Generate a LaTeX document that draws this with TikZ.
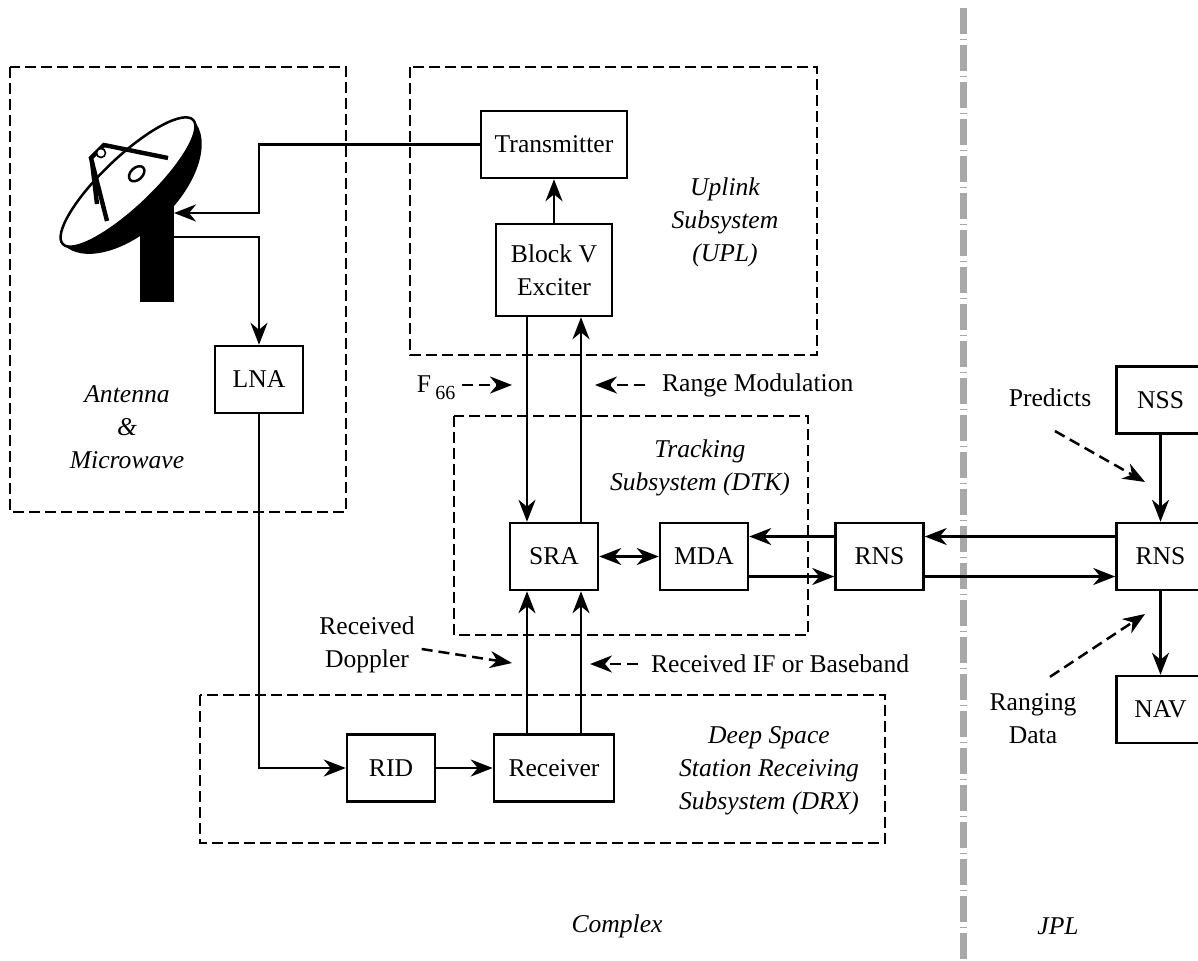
\documentclass[tikz,border=0pt]{standalone}
\usepackage{fontspec}
\setmainfont{Liberation Serif}
\usetikzlibrary{arrows.meta,calc}

\begin{document}
\begin{tikzpicture}[x=0.5pt,y=-0.5pt,font=\fontsize{12.8}{16.5}\selectfont,
		box/.style={draw,line width=1.25pt,minimum width=44pt,minimum height=33.5pt,inner sep=2pt,align=center},
		grp/.style={line width=1.25pt,dash pattern=on 5.5pt off 2.5pt},
		arr/.style={line width=1.25pt,-{Stealth[length=11pt,width=8.5pt,inset=3.5pt]}},
		both/.style={line width=1.25pt,{Stealth[length=11pt,width=8.5pt,inset=3.5pt]}-{Stealth[length=11pt,width=8.5pt,inset=3.5pt]}},
		ind/.style={arr,dash pattern=on 5.5pt off 3pt},
		lbl/.style={align=center,font=\fontsize{12.8}{16.5}\selectfont\itshape},
		divider/.style={draw=black!34,line width=3.5pt,dash pattern=on 13pt off 2.3pt on 0.7pt off 2.5pt}]
		\useasboundingbox (0,0) rectangle (1198,960);
		\clip (0,0) rectangle (1198,960);
		
		% subsystem frames
		\draw [grp] (10,67) rectangle (346,512);
		\draw [grp] (410,67) rectangle (817,355);
		\draw [grp] (454,416) rectangle (808,635);
		\draw [grp] (200,695) rectangle (885,843);
		\draw [divider] (963,8) -- (963,960);
		
		% dish antenna
		\fill (140,195) rectangle (174,302);
		\begin{scope}[shift={(128,182)},rotate=43.6]
			\fill (-90,0) arc[start angle=180,end angle=0,x radius=90,y radius=50]
				arc[start angle=0,end angle=180,x radius=90,y radius=25] -- cycle;
			\draw [line width=1.25pt,fill=white] (0,0) ellipse[x radius=90,y radius=25];
			\draw [line width=1.25pt,fill=white] (12,0) ellipse[x radius=9,y radius=6];
		\end{scope}
		\draw [line width=2.2pt] (107,221) -- (91,158) -- (104,145) -- (168,158);
		\draw [line width=2.2pt] (92,162) -- (97,204);
		\draw [line width=0.8pt,fill=white] (101,153) circle (4.5);
		\coordinate (feedin) at (174,213);
		\coordinate (feedout) at (174,237);
		
		% blocks
		\node [box,minimum width=73pt] (tx) at (554,144.5) {Transmitter};
		\node [box,minimum width=58pt,minimum height=46pt] (exc) at (554,270) {Block V\\Exciter};
		\node [box] (lna) at (259,379.5) {LNA};
		\node [box] (sra) at (554,556.5) {SRA};
		\node [box] (mda) at (704,556.5) {MDA};
		\node [box] (rnsa) at (879.5,556.5) {RNS};
		\node [box] (rnsb) at (1160.5,556.5) {RNS};
		\node [box] (nss) at (1160.5,400) {NSS};
		\node [box] (nav) at (1160.5,709.5) {NAV};
		\node [box] (rid) at (391,768) {RID};
		\node [box,minimum width=60pt] (rcv) at (554,768) {Receiver};
		
		% subsystem names
		\node [lbl] (antlbl) at (127,427) {Antenna\\\&\\Microwave};
		\node [lbl] (upllbl) at (725,222) {Uplink\\Subsystem\\(UPL)};
		\node [lbl] (dtklbl) at (700,468) {Tracking\\Subsystem (DTK)};
		\node [lbl] (drxlbl) at (769,771) {Deep Space\\Station Receiving\\Subsystem (DRX)};
		\node [lbl] (cpx) at (617,926) {Complex};
		\node [lbl] (jpl) at (1058,926) {JPL};
		
		% signal paths
		\draw [arr] (tx.west) -| (lna.north |- feedin) -- (feedin);
		\draw [arr] (feedout) -| (lna.north);
		\draw [arr] (lna.south) |- (rid.west);
		\draw [arr] (rid.east) -- (rcv.west);
		\draw [arr] ([xshift=-13.5pt]rcv.north) -- ([xshift=-13.5pt]sra.south);
		\draw [arr] ([xshift=13.5pt]rcv.north) -- ([xshift=13.5pt]sra.south);
		\draw [arr] ([xshift=-13.5pt]exc.south) -- ([xshift=-13.5pt]sra.north);
		\draw [arr] ([xshift=13.5pt]sra.north) -- ([xshift=13.5pt]exc.south);
		\draw [arr] (exc.north) -- (tx.south);
		\draw [both] (sra.east) -- (mda.west);
		\draw [arr] ([yshift=10pt]rnsa.west) -- ([yshift=10pt]mda.east);
		\draw [arr] ([yshift=-10pt]mda.east) -- ([yshift=-10pt]rnsa.west);
		\draw [arr] ([yshift=10pt]rnsb.west) -- ([yshift=10pt]rnsa.east);
		\draw [arr] ([yshift=-10pt]rnsa.east) -- ([yshift=-10pt]rnsb.west);
		\draw [arr] (nss.south) -- (rnsb.north);
		\draw [arr] (rnsb.south) -- (nav.north);
		
		% signal names
		\node (f66) at (436,388) {F\,\raisebox{-3.5pt}{\fontsize{10}{10}\selectfont 66}};
		\node [anchor=west] (rmod) at (655,385) {Range Modulation};
		\node [align=center] (dop) at (367,645) {Received\\Doppler};
		\node [anchor=west] (rif) at (644,664) {Received IF or Baseband};
		\node (pred) at (1050,398) {Predicts};
		\node [align=center] (rng) at (1033,719) {Ranging\\Data};
		\coordinate (f66tip) at (512,385);
		\coordinate (rmodtip) at (595,385);
		\coordinate (doptip) at (512,663);
		\coordinate (riftip) at (590,664);
		\coordinate (predtip) at (1145,482);
		\coordinate (rngtip) at (1145,614);
		\draw [ind] (f66.east |- f66tip) -- (f66tip);
		\draw [ind] ([xshift=-5pt]rmod.west) -- (rmodtip);
		\draw [ind] ([yshift=-2pt]dop.east) -- (doptip);
		\draw [ind] ([xshift=-3pt]rif.west) -- (riftip);
		\draw [ind] ([shift={(2.5pt,-8.5pt)}]pred.south) -- (predtip);
		\draw [ind] ([shift={(8.5pt,5pt)}]rng.north) -- (rngtip);
\end{tikzpicture}
\end{document}
